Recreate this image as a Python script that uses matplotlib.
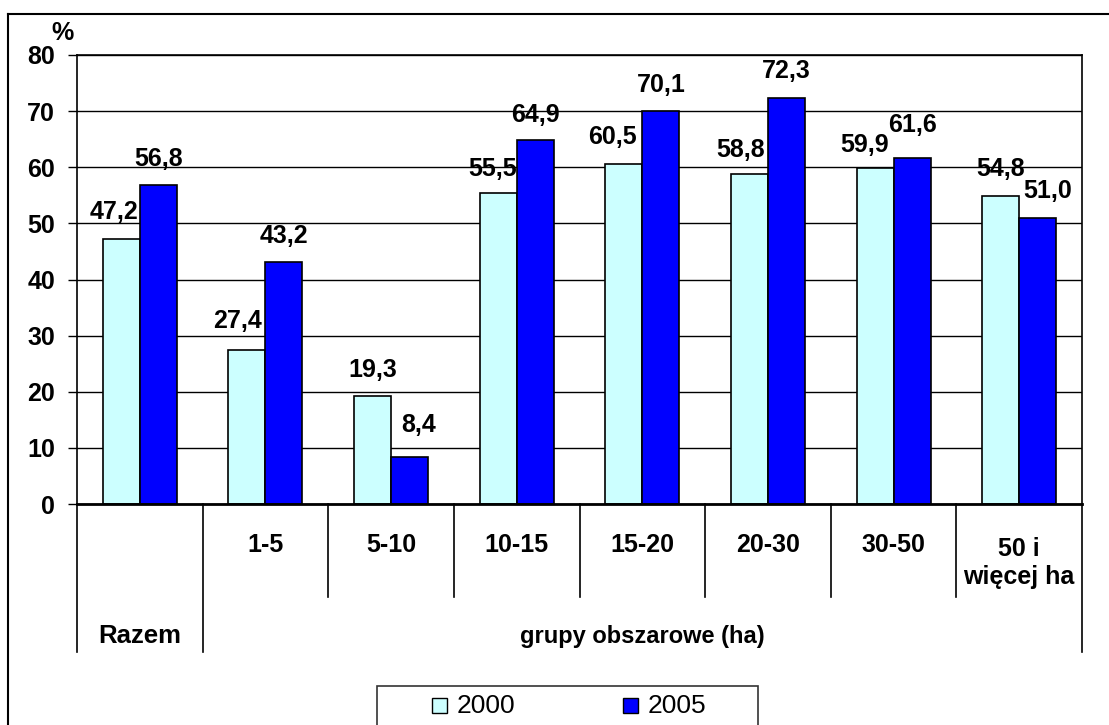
import matplotlib
matplotlib.use("Agg")
import matplotlib.pyplot as plt
from matplotlib.patches import Rectangle
from matplotlib.lines import Line2D
import matplotlib.transforms as mtransforms

plt.rcParams['font.family'] = ['Liberation Sans', 'DejaVu Sans']

# ---- data ----
categories = ["Razem", "1-5", "5-10", "10-15", "15-20", "20-30", "30-50", "50 i\nwięcej ha"]
group_label = "grupy obszarowe (ha)"
series_names = ["2000", "2005"]
values_2000 = [47.2, 27.4, 19.3, 55.5, 60.5, 58.8, 59.9, 54.8]
values_2005 = [56.8, 43.2, 8.4, 64.9, 70.1, 72.3, 61.6, 51.0]
yticks = [0, 10, 20, 30, 40, 50, 60, 70, 80]

# ---- label layout (pixel offsets) ----
gap_2000 = [20, 22, 19, 17, 20, 17, 16, 20]
dx_2000 = [-7, -9, 0, -6, -11, -9, -10, 0]
gap_2005 = [19, 19, 25, 18, 19, 20, 26, 20]
dx_2005 = [0, 0, 9, 0, 0, 0, 0, 10]

W, H = 1109, 725
fig = plt.figure(figsize=(W / 100, H / 100), dpi=100)
px = mtransforms.Affine2D().scale(1 / W, -1 / H).translate(0, 1) + fig.transFigure

c_light = "#CCFFFF"
c_dark = "#0000FF"
FS = 18
FS_CAT = 18

L, R, T, B = 77, 1082, 55, 504
ax = fig.add_axes([L / W, (H - B) / H, (R - L) / W, (B - T) / H])

n = len(categories)
xs = list(range(n))
bw = 0.295
ax.bar([x - bw / 2 for x in xs], values_2000, width=bw, color=c_light,
       edgecolor="black", linewidth=1.2, zorder=3)
ax.bar([x + bw / 2 for x in xs], values_2005, width=bw, color=c_dark,
       edgecolor="black", linewidth=1.2, zorder=3)

ax.set_xlim(-0.5, n - 0.5)
ax.set_ylim(0, 80)
ax.set_yticks(yticks)
ax.set_yticklabels([str(t) for t in yticks], fontsize=FS, fontweight="bold")
ax.tick_params(axis="y", direction="out", length=6.5, width=1, pad=9.4, color="black")
ax.set_xticks([])
ax.yaxis.grid(True, color="black", linewidth=1.0, zorder=0)
ax.set_axisbelow(True)
for s in ["top", "right", "left"]:
    ax.spines[s].set_linewidth(1.2)
ax.spines["bottom"].set_linewidth(2.0)
ax.spines["bottom"].set_zorder(4)

for i in range(n):
    ax.annotate(f"{values_2000[i]:.1f}".replace(".", ","), (i - bw / 2, values_2000[i]),
                xytext=(dx_2000[i], gap_2000[i]), textcoords="offset pixels",
                ha="center", va="baseline", fontsize=FS, fontweight="bold", zorder=5)
    ax.annotate(f"{values_2005[i]:.1f}".replace(".", ","), (i + bw / 2, values_2005[i]),
                xytext=(dx_2005[i], gap_2005[i]), textcoords="offset pixels",
                ha="center", va="baseline", fontsize=FS, fontweight="bold", zorder=5)

# multi-level category axis
trans = ax.get_xaxis_transform()
h_ax = B - T
y_inner = (B - 597) / h_ax
y_outer = (B - 652) / h_ax
y_row1 = (B - 545) / h_ax
y_row2 = (B - 636) / h_ax
y_row1_two = (B - 563) / h_ax
for b in [x - 0.5 for x in range(n + 1)]:
    outer = b in (-0.5, 0.5, n - 0.5)
    ax.plot([b, b], [0, y_outer if outer else y_inner], transform=trans,
            color="black", linewidth=1.2, clip_on=False)
for i in range(1, n):
    lab = categories[i]
    yy = y_row1_two if "\n" in lab else y_row1
    ax.text(i, yy, lab, transform=trans, ha="center", va="center",
            fontsize=FS_CAT, fontweight="bold", linespacing=1.25)
ax.text(0, y_row2, categories[0], transform=trans, ha="center", va="center",
        fontsize=18.5, fontweight="bold")
ax.text((1 + n - 1) / 2, y_row2, group_label, transform=trans, ha="center", va="center",
        fontsize=17, fontweight="bold")

# percent sign
fig.text(62, 33, "%", transform=px, ha="center", va="center", fontsize=FS, fontweight="bold")

# outer border (cut off at right/bottom)
fig.add_artist(Line2D([8, W], [14, 14], transform=px, color="black", linewidth=1.5))
fig.add_artist(Line2D([8, 8], [14, H], transform=px, color="black", linewidth=1.5))

# legend
fig.add_artist(Rectangle((377, 686), 381, 60, transform=px, facecolor="white",
                         edgecolor="#333333", linewidth=1.2))
leg_marker_x = [432, 623]
leg_colors = [c_light, c_dark]
for mx, col, name in zip(leg_marker_x, leg_colors, series_names):
    fig.add_artist(Rectangle((mx, 698), 15, 15, transform=px, facecolor=col,
                             edgecolor="black", linewidth=1.0))
    fig.text(mx + 25, 706, name, transform=px, ha="left", va="center", fontsize=19)

fig.savefig("out.png", dpi=100)
